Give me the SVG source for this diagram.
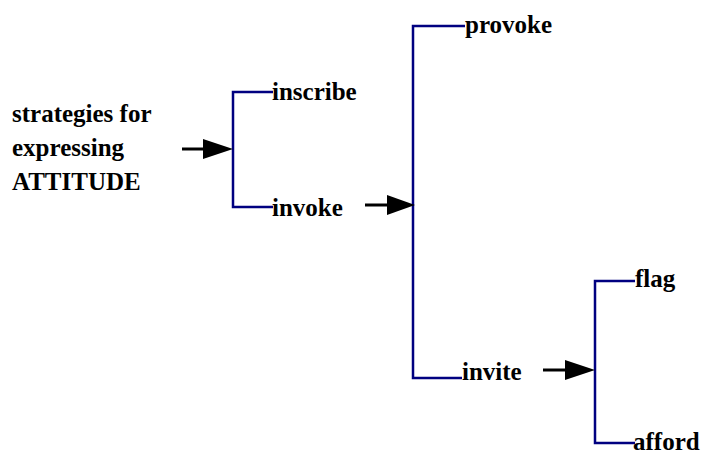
<svg xmlns="http://www.w3.org/2000/svg" width="705" height="457" viewBox="0 0 705 457">
<defs>
<style>
.t{font-family:"Liberation Serif","Times New Roman",serif;font-weight:bold;font-size:25px;fill:#000}
.b{fill:none;stroke:#000080;stroke-width:2.5}
.a{stroke:#000;stroke-width:3}
.h{fill:#000}
</style>
</defs>
<rect width="705" height="457" fill="#fff"/>
<g id="connectors">
<path class="b" d="M273,92 H233 V207 H273"/>
<path class="b" d="M465,26 H413 V378 H462"/>
<path class="b" d="M635,281 H595 V443 H635"/>
<line class="a" x1="182" y1="149" x2="206" y2="149"/>
<polygon class="h" points="203,139 233,149 203,159"/>
<line class="a" x1="365" y1="205" x2="390" y2="205"/>
<polygon class="h" points="387,195 415,205 387,215"/>
<line class="a" x1="543" y1="370" x2="568" y2="370"/>
<polygon class="h" points="565,360 595,370 565,380"/>
</g>
<g id="root"><text class="t" x="12" y="122">strategies for</text><text class="t" x="12" y="156">expressing</text><text class="t" x="12" y="190">ATTITUDE</text></g>
<g id="inscribe"><text class="t" x="272" y="100">inscribe</text></g>
<g id="invoke"><text class="t" x="272" y="216">invoke</text></g>
<g id="provoke"><text class="t" x="465" y="33">provoke</text></g>
<g id="invite"><text class="t" x="462" y="380">invite</text></g>
<g id="flag"><text class="t" x="635" y="287">flag</text></g>
<g id="afford"><text class="t" x="633" y="450">afford</text></g>
</svg>
